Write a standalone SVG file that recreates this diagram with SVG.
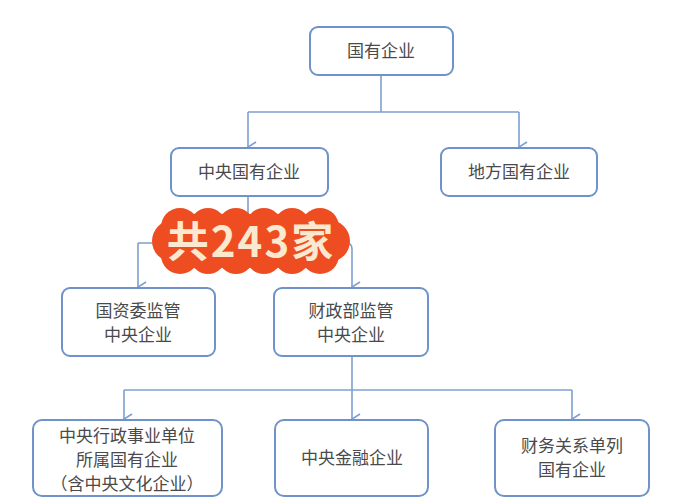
<svg xmlns="http://www.w3.org/2000/svg" width="677" height="500" viewBox="0 0 677 500">
<style>
.box{fill:#fff;stroke:#6F92C8;stroke-width:2}
.t{font-family:"Noto Sans CJK SC","Noto Sans",sans-serif;font-size:17px;fill:#4a4a4a;text-anchor:middle}
.ln{fill:none;stroke:#7E9FD0;stroke-width:1.6}
</style>
<defs>
<marker id="a" markerWidth="12" markerHeight="10" refX="6" refY="9" orient="auto" markerUnits="userSpaceOnUse" viewBox="0 0 12 10">
<path d="M1,1 L6,9 L11,1" fill="none" stroke="#7E9FD0" stroke-width="1.6"/>
</marker>
</defs>
<rect width="677" height="500" fill="#fff"/>
<g id="connectors">
<path class="ln" d="M381,75 V112"/>
<path class="ln" d="M248,112 H519"/>
<path class="ln" d="M248,112 V147" marker-end="url(#a)"/>
<path class="ln" d="M519,112 V147" marker-end="url(#a)"/>
<path class="ln" d="M248,196 V243"/>
<path class="ln" d="M138,243 H346 Q352,243 352,249"/>
<path class="ln" d="M138,243 V287" marker-end="url(#a)"/>
<path class="ln" d="M352,249 V287" marker-end="url(#a)"/>
<path class="ln" d="M352,356 V390"/>
<path class="ln" d="M124,390 H572"/>
<path class="ln" d="M124,390 V419" marker-end="url(#a)"/>
<path class="ln" d="M352,390 V419" marker-end="url(#a)"/>
<path class="ln" d="M572,390 V419" marker-end="url(#a)"/>
</g>
<g id="n1"><rect class="box" x="310" y="27" width="143" height="48" rx="8"/><text class="t" x="381" y="57">国有企业</text></g>
<g id="n2"><rect class="box" x="171" y="148" width="157" height="48" rx="8"/><text class="t" x="249" y="178">中央国有企业</text></g>
<g id="n3"><rect class="box" x="441" y="148" width="156" height="48" rx="8"/><text class="t" x="519" y="178">地方国有企业</text></g>
<g id="n4"><rect class="box" x="62" y="288" width="153" height="68" rx="8"/><text class="t" x="138" y="317">国资委监管</text><text class="t" x="138" y="341">中央企业</text></g>
<g id="n5"><rect class="box" x="274" y="288" width="154" height="68" rx="8"/><text class="t" x="351" y="317">财政部监管</text><text class="t" x="351" y="341">中央企业</text></g>
<g id="n6"><rect class="box" x="33" y="420" width="189" height="76" rx="9"/><text class="t" x="127" y="442">中央行政事业单位</text><text class="t" x="127" y="466">所属国有企业</text><text class="t" x="127" y="490">（含中央文化企业）</text></g>
<g id="n7"><rect class="box" x="275" y="420" width="153" height="76" rx="9"/><text class="t" x="352" y="464">中央金融企业</text></g>
<g id="n8"><rect class="box" x="495" y="420" width="154" height="76" rx="9"/><text class="t" x="572" y="452">财务关系单列</text><text class="t" x="572" y="476">国有企业</text></g>
<g id="badge">
<g fill="#EE4D22">
<rect x="160" y="214" width="182" height="54" rx="27"/>
<circle cx="180" cy="227" r="19"/><circle cx="208" cy="226" r="18"/><circle cx="236" cy="226" r="18"/><circle cx="264" cy="226" r="18"/><circle cx="292" cy="226" r="18"/><circle cx="320" cy="227" r="19"/>
<circle cx="180" cy="255" r="19"/><circle cx="208" cy="256" r="18"/><circle cx="236" cy="256" r="18"/><circle cx="264" cy="256" r="18"/><circle cx="292" cy="256" r="18"/><circle cx="320" cy="255" r="19"/>
<circle cx="173" cy="241" r="21"/><circle cx="329" cy="241" r="21"/>
</g>
<text x="251" y="257" text-anchor="middle" font-family="Noto Sans CJK SC,sans-serif" font-weight="bold" font-size="42" letter-spacing="2" fill="#FBE9CF">共243家</text>
</g>
</svg>
